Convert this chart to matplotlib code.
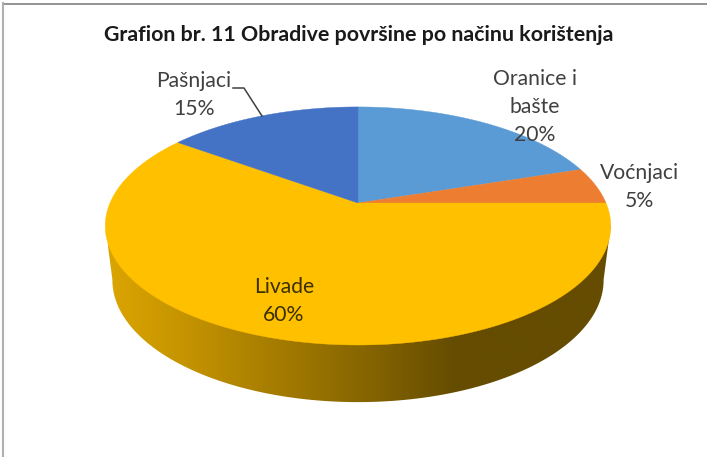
import numpy as np
import matplotlib
matplotlib.use("Agg")
import matplotlib.pyplot as plt
from matplotlib.colors import LinearSegmentedColormap
from matplotlib.patches import Polygon

categories = ["Oranice i\nbašte", "Voćnjaci", "Livade", "Pašnjaci"]
shares = [20, 5, 60, 15]
colors = ["#5B9BD5", "#ED7D31", "#FFC000", "#4472C4"]
title = "Grafion br. 11 Obradive površine po načinu korištenja"

# label anchor for each slice, in pixels
label_pos = [(535, 107), (639, 187), (284, 301), (194, 95)]
label_colors = ["#404040", "#404040", "#3a3000", "#404040"]

CX = 358
TILT = 0.193  # perspective: far side of the disc looks smaller


def project(theta, q, p, cy):
    # theta is clockwise from the top of the pie
    u, v = np.sin(theta), np.cos(theta)
    den = 1 + TILT * v
    return CX + q * u / den, cy - p * v / den


plt.rcParams["font.family"] = ["Lato", "DejaVu Sans"]

fig = plt.figure(figsize=(7.07, 4.57), dpi=100, facecolor="white")
ax = fig.add_axes([0, 0, 1, 1])
ax.set_xlim(0, 707)
ax.set_ylim(457, 0)
ax.axis("off")

# side wall of the pie, a horizontal gradient clipped to the lower rim
top_q, top_p, top_cy = 248, 114.6, 203
bot_q, bot_p, bot_cy = 241, 117.5, 256.5

arc = np.linspace(np.pi / 2 + 0.19, 3 * np.pi / 2 - 0.19, 200)
bx, by = project(arc, bot_q, bot_p, bot_cy)
tx, ty = project(arc, top_q, top_p, top_cy)
wall = np.column_stack([np.r_[tx[0], bx, tx[-1]], np.r_[ty[0], by, ty[-1]]])
wall_patch = Polygon(wall, closed=True, transform=ax.transData, fc="none", ec="none")
ax.add_patch(wall_patch)

stops = [(0.0, "#DBA500"), (0.18, "#C09000"), (0.49, "#8A6800"), (0.69, "#654C00"), (1.0, "#654C00")]
cmap = LinearSegmentedColormap.from_list("wall", stops)
img = ax.imshow(np.linspace(0, 1, 512)[None, :], cmap=cmap, extent=(108, 612, 410, 220),
                aspect="auto", zorder=1)
img.set_clip_path(wall_patch)
ax.set_xlim(0, 707)
ax.set_ylim(457, 0)

# top face, one polygon per slice going clockwise from 12 o'clock
ends = np.cumsum(shares) / np.sum(shares) * 2 * np.pi
starts = np.r_[0, ends[:-1]]
for a0, a1, col in zip(starts, ends, colors):
    t = np.linspace(a0, a1, 200)
    x, y = project(t, top_q, top_p, top_cy)
    ax.fill(np.r_[CX, x], np.r_[top_cy, y], color=col, lw=0.3, zorder=2)

for name, share, pos, col in zip(categories, shares, label_pos, label_colors):
    ax.text(pos[0], pos[1], f"{name}\n{share}%", ha="center", va="center", fontsize=15.2,
            color=col, linespacing=1.5, zorder=4)

# leader line for Pašnjaci
ax.plot([233, 244, 262], [88, 88, 116], color="#404040", lw=1.1, zorder=3)

ax.text(359, 35, title, ha="center", va="center", fontsize=15.4, fontweight="bold", color="#1a1a1a")

# chart frame, only the top and left edges are in the crop
ax.plot([3, 707], [3.5, 3.5], color="#808080", lw=1.2, zorder=5)
ax.plot([2.5, 2.5], [3, 457], color="#B0B0B0", lw=1.5, zorder=5)

fig.savefig("out.png", dpi=100, facecolor="white")
